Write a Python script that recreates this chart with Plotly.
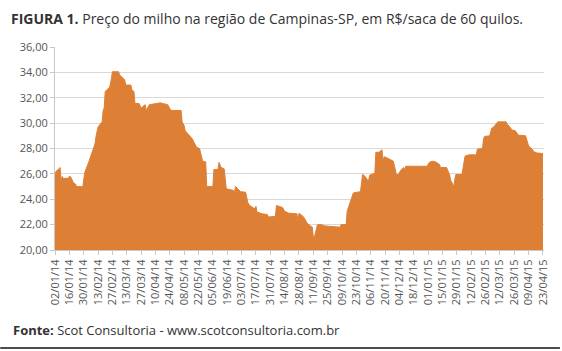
import plotly.graph_objects as go

dates = [
    "2014-01-02", "2014-01-03", "2014-01-06", "2014-01-07", "2014-01-08", "2014-01-09",
    "2014-01-10", "2014-01-15", "2014-01-16", "2014-01-17", "2014-01-20", "2014-01-22",
    "2014-01-23", "2014-01-28", "2014-01-29", "2014-01-31", "2014-02-04", "2014-02-06",
    "2014-02-10", "2014-02-11", "2014-02-13", "2014-02-17", "2014-02-18", "2014-02-19",
    "2014-02-20", "2014-02-24", "2014-02-25", "2014-02-26", "2014-02-27", "2014-03-05",
    "2014-03-06", "2014-03-10", "2014-03-11", "2014-03-12", "2014-03-17", "2014-03-18",
    "2014-03-20", "2014-03-21", "2014-03-25", "2014-03-27", "2014-03-31", "2014-04-01",
    "2014-04-03", "2014-04-04", "2014-04-11", "2014-04-15", "2014-04-17", "2014-04-22",
    "2014-04-25", "2014-05-05", "2014-05-06", "2014-05-08", "2014-05-09", "2014-05-13",
    "2014-05-16", "2014-05-20", "2014-05-23", "2014-05-26", "2014-05-29", "2014-05-30",
    "2014-06-05", "2014-06-06", "2014-06-10", "2014-06-11", "2014-06-13", "2014-06-16",
    "2014-06-18", "2014-06-19", "2014-06-25", "2014-06-26", "2014-06-27", "2014-07-02",
    "2014-07-07", "2014-07-09", "2014-07-11", "2014-07-15", "2014-07-16", "2014-07-17",
    "2014-07-18", "2014-07-23", "2014-07-28", "2014-07-29", "2014-08-04", "2014-08-05",
    "2014-08-06", "2014-08-08", "2014-08-12", "2014-08-14", "2014-08-18", "2014-08-26",
    "2014-08-27", "2014-08-28", "2014-09-01", "2014-09-03", "2014-09-05", "2014-09-09",
    "2014-09-10", "2014-09-11", "2014-09-12", "2014-09-15", "2014-09-19", "2014-09-22",
    "2014-10-06", "2014-10-07", "2014-10-08", "2014-10-13", "2014-10-14", "2014-10-16",
    "2014-10-17", "2014-10-20", "2014-10-27", "2014-10-28", "2014-10-29", "2014-10-31",
    "2014-11-03", "2014-11-04", "2014-11-05", "2014-11-10", "2014-11-11", "2014-11-14",
    "2014-11-17", "2014-11-18", "2014-11-19", "2014-11-21", "2014-11-25", "2014-11-28",
    "2014-12-01", "2014-12-03", "2014-12-05", "2014-12-08", "2014-12-09", "2014-12-10",
    "2014-12-31", "2015-01-02", "2015-01-05", "2015-01-08", "2015-01-12", "2015-01-13",
    "2015-01-19", "2015-01-20", "2015-01-22", "2015-01-23", "2015-01-26", "2015-01-27",
    "2015-01-28", "2015-02-03", "2015-02-05", "2015-02-06", "2015-02-10", "2015-02-17",
    "2015-02-18", "2015-02-23", "2015-02-24", "2015-02-25", "2015-03-02", "2015-03-03",
    "2015-03-04", "2015-03-06", "2015-03-09", "2015-03-10", "2015-03-18", "2015-03-19",
    "2015-03-23", "2015-03-24", "2015-03-27", "2015-03-30", "2015-04-06", "2015-04-07",
    "2015-04-09", "2015-04-13", "2015-04-14", "2015-04-17", "2015-04-23",
]

prices = [
    26.0, 26.2, 26.4, 26.5, 25.4, 25.8,
    25.65, 25.65, 25.8, 25.8, 25.3, 25.2,
    25.0, 25.0, 24.9, 26.1, 26.95, 27.4,
    28.35, 28.95, 29.7, 30.1, 31.0, 31.2,
    32.5, 32.8, 33.05, 33.5, 34.05, 34.05,
    33.8, 33.5, 33.4, 33.0, 33.0, 32.6,
    32.5, 31.55, 31.55, 31.2, 31.45, 31.0,
    31.4, 31.45, 31.55, 31.6, 31.55, 31.45,
    31.0, 31.0, 30.1, 29.8, 29.4, 29.0,
    28.75, 28.1, 28.0, 27.0, 26.95, 25.0,
    25.0, 26.35, 26.35, 26.9, 26.5, 26.4,
    24.9, 24.8, 24.7, 24.5, 25.0, 24.6,
    24.55, 23.75, 23.5, 23.3, 23.25, 23.45,
    23.0, 22.85, 22.8, 22.6, 22.6, 22.65,
    23.5, 23.45, 23.35, 23.05, 22.9, 22.85,
    22.25, 22.9, 22.65, 22.4, 22.1, 21.85,
    21.8, 21.0, 21.0, 22.0, 22.0, 21.9,
    21.85, 21.8, 22.0, 22.0, 23.05, 23.6,
    23.85, 24.5, 24.6, 25.55, 25.95, 25.85,
    25.5, 25.5, 25.9, 26.05, 27.7, 27.7,
    27.9, 27.0, 27.35, 27.3, 27.15, 27.0,
    25.95, 25.95, 26.25, 26.5, 26.3, 26.6,
    26.6, 26.9, 27.0, 26.95, 26.75, 26.5,
    26.5, 26.3, 25.9, 25.5, 25.0, 25.55,
    25.95, 25.95, 27.15, 27.4, 27.5, 27.5,
    27.95, 28.0, 28.75, 28.95, 29.0, 29.4,
    29.6, 29.7, 29.95, 30.1, 30.1, 29.95,
    29.55, 29.45, 29.4, 29.05, 29.0, 28.75,
    28.2, 27.9, 27.75, 27.65, 27.6,
]

y_ticks = [20, 22, 24, 26, 28, 30, 32, 34, 36]
title_bold = "FIGURA 1."
title_rest = " Preço do milho na região de Campinas-SP, em R$/saca de 60 quilos."
source_bold = "Fonte:"
source_rest = " Scot Consultoria - www.scotconsultoria.com.br"

ORANGE = "#DD8035"
FONT = "Open Sans"

fig = go.Figure()
fig.add_trace(go.Scatter(
    x=dates, y=prices, mode="lines", fill="tozeroy",
    line=dict(color=ORANGE, width=1), fillcolor=ORANGE,
    hoverinfo="skip", showlegend=False,
))

W, H = 562, 351
L, R, T, B = 55, 16, 47, 101
pw, ph = W - L - R, H - T - B


def px(xp):
    return (xp - L) / pw


def py(yp):
    return (H - B - yp) / ph


fig.update_layout(
    width=W, height=H,
    margin=dict(l=L, r=R, t=T, b=B, pad=0),
    paper_bgcolor="white", plot_bgcolor="white",
    separators=",.",
    font=dict(family=FONT, color="#555555", size=11),
    xaxis=dict(
        type="date",
        range=["2014-01-02", "2015-04-24"],
        tick0="2014-01-02", dtick=14 * 24 * 3600 * 1000,
        tickformat="%d/%m/%y", tickangle=-90,
        showgrid=False, showline=True, linecolor="#c8c8c8", linewidth=1,
        ticks="outside", ticklen=4, tickcolor="#c8c8c8",
        tickfont=dict(size=11, color="#555555", family=FONT),
        zeroline=False,
    ),
    yaxis=dict(
        range=[20, 36], tickvals=y_ticks, tickformat=".2f",
        showgrid=True, gridcolor="#d9d9d9", gridwidth=1,
        showline=True, linecolor="#c8c8c8", linewidth=1,
        ticks="outside", ticklen=4, tickcolor="#c8c8c8",
        tickfont=dict(size=11, color="#555555", family=FONT),
        zeroline=False,
    ),
    annotations=[
        dict(xref="paper", yref="paper", x=px(9), y=py(18),
             xanchor="left", yanchor="middle", showarrow=False,
             text=f"<b>{title_bold}</b>{title_rest}",
             font=dict(family=FONT, size=14, color="#333333")),
        dict(xref="paper", yref="paper", x=px(11), y=py(330),
             xanchor="left", yanchor="middle", showarrow=False,
             text=f"<b>{source_bold}</b>{source_rest}",
             font=dict(family=FONT, size=13, color="#333333")),
    ],
    shapes=[
        dict(type="line", xref="paper", yref="paper",
             x0=px(0), x1=px(W), y0=py(348), y1=py(348),
             line=dict(color="#111111", width=1.5)),
    ],
)

fig.write_html("out.html")
